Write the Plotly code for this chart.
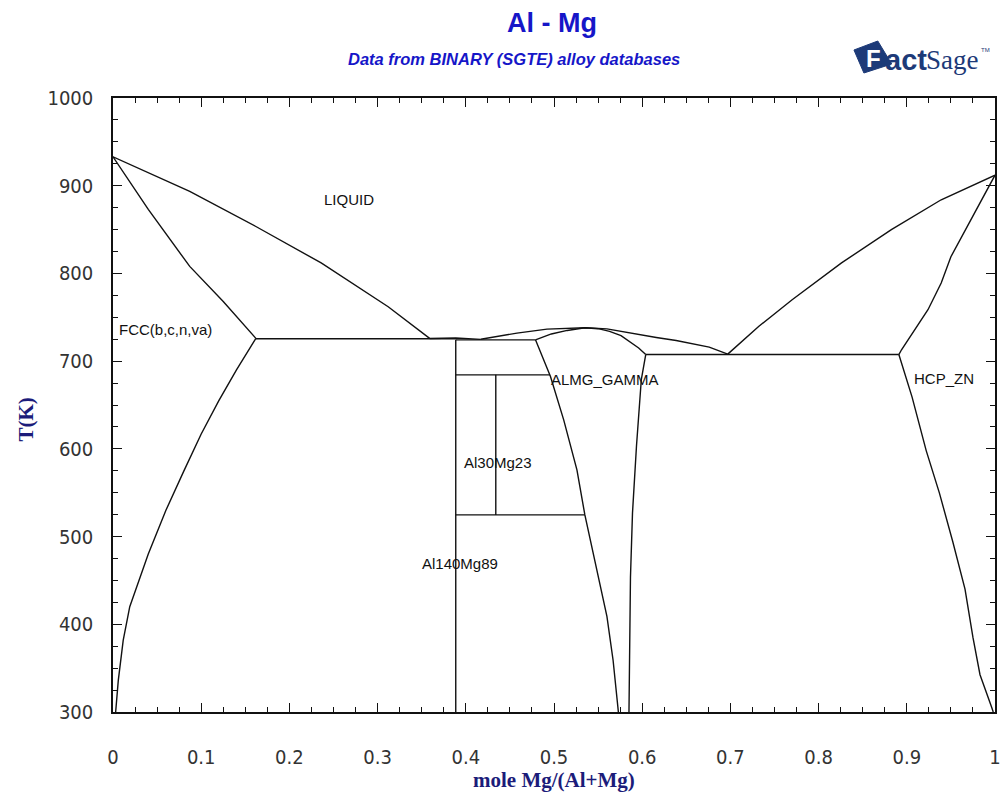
import plotly.graph_objects as go

# ---- phase-boundary data: composition x = mole Mg/(Al+Mg), temperature T in K ----
liq_al_x = [0.0, 0.049, 0.087, 0.162, 0.236, 0.312, 0.359]
liq_al_T = [933.0, 911.0, 893.5, 853.5, 812.0, 762.0, 726.0]

sol_fcc_x = [0.0, 0.04, 0.087, 0.125, 0.162]
sol_fcc_T = [933.0, 873.0, 808.0, 768.0, 726.0]

solvus_fcc_x = [0.162, 0.14, 0.12, 0.10, 0.08, 0.06, 0.04, 0.025, 0.019, 0.0116, 0.006, 0.003]
solvus_fcc_T = [726.0, 690.0, 655.0, 617.0, 574.0, 530.0, 480.0, 437.0, 420.0, 382.0, 336.0, 300.0]

eut_fcc_x = [0.162, 0.3886]
eut_fcc_T = [725.5, 725.5]

liq_beta_x = [0.359, 0.3886, 0.417]
liq_beta_T = [725.8, 726.3, 724.8]

eut_beta_x = [0.3886, 0.479]
eut_beta_T = [724.3, 724.3]

liq_gamma_x = [0.417, 0.458, 0.492, 0.535, 0.56, 0.578, 0.616, 0.6385, 0.676, 0.697]
liq_gamma_T = [725.0, 732.0, 736.5, 738.0, 736.8, 733.5, 727.0, 723.5, 716.0, 708.0]

sol_gamma_x = [0.479, 0.497, 0.515, 0.535, 0.55, 0.563, 0.576, 0.586, 0.596, 0.604]
sol_gamma_T = [724.3, 731.0, 735.0, 738.0, 737.0, 734.0, 729.0, 722.5, 715.0, 707.5]

gamma_left_x = [0.479, 0.496, 0.511, 0.526, 0.535, 0.541, 0.548, 0.560, 0.567, 0.573]
gamma_left_T = [724.3, 682.5, 633.0, 576.0, 524.7, 496.0, 466.0, 409.0, 359.0, 300.0]

gamma_right_x = [0.604, 0.599, 0.5935, 0.589, 0.5867, 0.5855, 0.585]
gamma_right_T = [707.5, 679.0, 603.0, 527.0, 454.0, 380.0, 300.0]

beta_x = [0.3886, 0.3886]
beta_T = [724.3, 300.0]

al30mg23_x = [0.434, 0.434]
al30mg23_T = [684.4, 524.7]

upper_tie_x = [0.3886, 0.4955]
upper_tie_T = [684.4, 684.4]

lower_tie_x = [0.3886, 0.535]
lower_tie_T = [524.7, 524.7]

eut_hcp_x = [0.604, 0.891]
eut_hcp_T = [707.5, 707.5]

liq_hcp_x = [0.697, 0.732, 0.770, 0.826, 0.8825, 0.939, 1.0]
liq_hcp_T = [708.0, 739.5, 770.0, 812.0, 850.0, 884.0, 912.0]

sol_hcp_x = [0.891, 0.894, 0.924, 0.939, 0.950, 1.0]
sol_hcp_T = [707.5, 713.0, 758.6, 789.0, 819.0, 912.0]

solvus_hcp_x = [0.891, 0.906, 0.922, 0.937, 0.952, 0.966, 0.975, 0.983, 0.996, 0.998]
solvus_hcp_T = [707.5, 659.0, 598.0, 549.5, 494.7, 440.0, 385.0, 342.5, 306.0, 300.0]

curves = [
    (liq_al_x, liq_al_T), (sol_fcc_x, sol_fcc_T), (solvus_fcc_x, solvus_fcc_T),
    (eut_fcc_x, eut_fcc_T), (liq_beta_x, liq_beta_T), (eut_beta_x, eut_beta_T),
    (liq_gamma_x, liq_gamma_T), (sol_gamma_x, sol_gamma_T),
    (gamma_left_x, gamma_left_T), (gamma_right_x, gamma_right_T),
    (beta_x, beta_T), (al30mg23_x, al30mg23_T),
    (upper_tie_x, upper_tie_T), (lower_tie_x, lower_tie_T),
    (eut_hcp_x, eut_hcp_T), (liq_hcp_x, liq_hcp_T),
    (sol_hcp_x, sol_hcp_T), (solvus_hcp_x, solvus_hcp_T),
]

# phase-field labels
phase_names = ["LIQUID", "FCC(b,c,n,va)", "ALMG_GAMMA", "Al30Mg23", "Al140Mg89", "HCP_ZN"]
phase_x = [0.237, 0.004, 0.494, 0.396, 0.3475, 0.906]
phase_T = [884.0, 736.0, 679.0, 584.0, 469.5, 680.6]

W, H = 1006, 792
L, R, T, B = 113, 5, 98, 80
PW, PH = W - L - R, H - T - B


def px(x):
    return (x - L) / PW


def py(y):
    return (H - B - y) / PH


fig = go.Figure()
for cx, cy in curves:
    fig.add_trace(go.Scatter(
        x=cx, y=cy, mode="lines",
        line=dict(color="#111111", width=1.4),
        showlegend=False, hoverinfo="skip",
    ))

annotations = []
for name, lx, ly in zip(phase_names, phase_x, phase_T):
    annotations.append(dict(
        x=lx, y=ly, xref="x", yref="y", text=name, showarrow=False,
        xanchor="left", yanchor="middle",
        font=dict(family="Liberation Sans, Arial, sans-serif", size=15, color="#111111"),
    ))

blue = "#1616c8"
navy = "#1c1c7a"
logo = "#1d3a78"
annotations += [
    dict(x=px(555), y=py(23), xref="paper", yref="paper", text="<b>Al - Mg</b>",
         showarrow=False, xanchor="center", yanchor="middle",
         font=dict(family="Liberation Sans, Arial, sans-serif", size=27, color=blue)),
    dict(x=px(517), y=py(59), xref="paper", yref="paper",
         text="<b><i>Data from BINARY (SGTE) alloy databases</i></b>",
         showarrow=False, xanchor="center", yanchor="middle",
         font=dict(family="Liberation Sans, Arial, sans-serif", size=16.5, color=blue)),
    dict(x=px(557), y=py(780), xref="paper", yref="paper", text="<b>mole Mg/(Al+Mg)</b>",
         showarrow=False, xanchor="center", yanchor="middle",
         font=dict(family="Liberation Serif, Times New Roman, serif", size=21, color=navy)),
    dict(x=px(25), y=py(420), xref="paper", yref="paper", text="<b>T(K)</b>",
         showarrow=False, xanchor="center", yanchor="middle", textangle=-90,
         font=dict(family="Liberation Serif, Times New Roman, serif", size=21, color=navy)),
    # FactSage logo lettering
    dict(x=px(879), y=py(59), xref="paper", yref="paper", text="<b>F</b>",
         showarrow=False, xanchor="center", yanchor="middle",
         font=dict(family="Liberation Sans, Arial, sans-serif", size=24, color="white")),
    dict(x=px(888), y=py(60), xref="paper", yref="paper", text="<b>act</b>",
         showarrow=False, xanchor="left", yanchor="middle",
         font=dict(family="Liberation Sans, Arial, sans-serif", size=29, color=logo)),
    dict(x=px(930), y=py(60), xref="paper", yref="paper", text="Sage",
         showarrow=False, xanchor="left", yanchor="middle",
         font=dict(family="Liberation Serif, Times New Roman, serif", size=27, color=logo)),
    dict(x=px(985), y=py(50), xref="paper", yref="paper", text="TM",
         showarrow=False, xanchor="left", yanchor="middle",
         font=dict(family="Liberation Sans, Arial, sans-serif", size=6, color=logo)),
]

# tilted block behind the logo's "F"
logo_pts = [(859, 50), (883, 41), (897, 64), (869, 73)]
logo_path = "M " + " L ".join(f"{px(a):.5f},{py(b):.5f}" for a, b in logo_pts) + " Z"

axis_common = dict(
    showgrid=False, zeroline=False, showline=True, linecolor="#111111", linewidth=1.5,
    mirror="ticks", ticks="inside", ticklen=9, tickwidth=1.2, tickcolor="#111111",
    tickfont=dict(family="Liberation Sans Narrow, Arial Narrow, DejaVu Sans Condensed, sans-serif",
                  size=20, color="#333333"),
)

fig.update_layout(
    width=W, height=H,
    margin=dict(l=L, r=R, t=T, b=B, pad=0),
    paper_bgcolor="white", plot_bgcolor="white",
    annotations=annotations,
    shapes=[dict(type="path", xref="paper", yref="paper", path=logo_path,
                 fillcolor=logo, line=dict(color=logo, width=1), layer="below")],
    xaxis=dict(range=[0, 1], tick0=0, dtick=0.1, ticklabelstandoff=26,
               minor=dict(dtick=0.025, ticks="inside", ticklen=5, tickcolor="#111111", tickwidth=1),
               **axis_common),
    yaxis=dict(range=[300, 1000], tick0=300, dtick=100, ticklabelstandoff=14,
               minor=dict(dtick=25, ticks="inside", ticklen=5, tickcolor="#111111", tickwidth=1),
               **axis_common),
)

fig.write_html("out.html")
